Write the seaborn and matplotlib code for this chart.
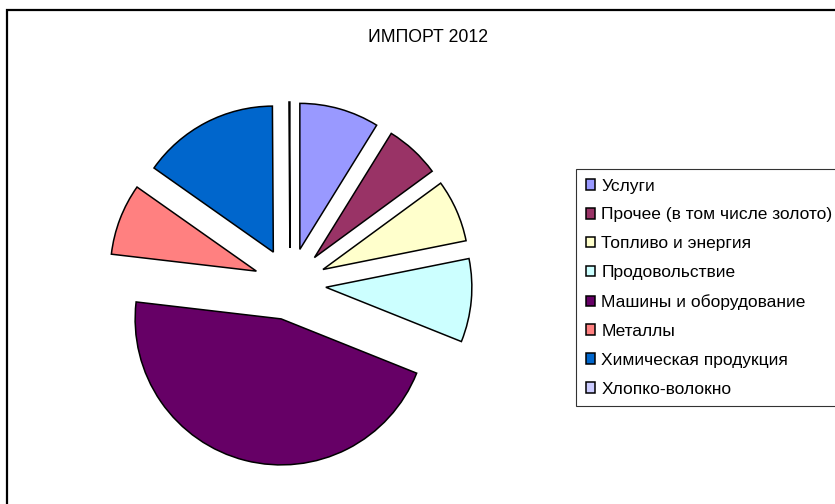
import matplotlib
matplotlib.use("Agg")
import matplotlib.pyplot as plt
import matplotlib.patches as mpatches
import seaborn as sns

# --- данные ---
categories = [
    "Услуги",
    "Прочее (в том числе золото)",
    "Топливо и энергия",
    "Продовольствие",
    "Машины и оборудование",
    "Металлы",
    "Химическая продукция",
    "Хлопко-волокно",
]
shares = [8.8, 6.1, 6.9, 9.2, 45.7, 7.9, 15.1, 0.1]
colors = ["#9999FF", "#993366", "#FFFFCC", "#CCFFFF",
          "#660066", "#FF8080", "#0066CC", "#CCCCFF"]
title = "ИМПОРТ 2012"

sns.set_theme(style="white")
plt.rcParams["font.family"] = ["Liberation Sans", "DejaVu Sans"]
plt.rcParams["text.color"] = "black"

W, H = 835, 504
fig = plt.figure(figsize=(W / 100, H / 100), dpi=100)
ax = fig.add_axes([0, 0, 1, 1])

# оси в пикселях, центр круга (290, 284) от верхнего левого угла
cx, cy, r = 290, 284, 146
wedges, _ = ax.pie(
    shares,
    colors=colors,
    startangle=90,
    counterclock=False,
    radius=r,
    center=(cx, H - cy),
    explode=[36] * len(shares),
    wedgeprops={"edgecolor": "black", "linewidth": 1.1},
    frame=True,
)
ax.set_xlim(0, W)
ax.set_ylim(0, H)
ax.set_aspect("equal")
ax.axis("off")

# рамка диаграммы
fig.patches.append(mpatches.Rectangle((7, -20), W, H - 10 + 20, transform=None,
                                      fill=False, edgecolor="black", linewidth=1.6))

fig.text(428 / W, 1 - 37 / H, title, ha="center", va="center", fontsize=12.7,
         color="black")

leg = fig.legend(
    wedges, categories,
    loc="upper left",
    bbox_to_anchor=(576 / W, 1 - 169 / H),
    fontsize=12.5,
    frameon=True,
    fancybox=False,
    shadow=False,
    handlelength=0.55,
    handleheight=0.55,
    handletextpad=0.35,
    labelspacing=0.8,
    borderpad=0.55,
    borderaxespad=0,
)
leg.get_frame().set_edgecolor("black")
leg.get_frame().set_linewidth(0.8)
for t in leg.get_texts():
    t.set_color("black")

fig.savefig("out.png", dpi=100)
